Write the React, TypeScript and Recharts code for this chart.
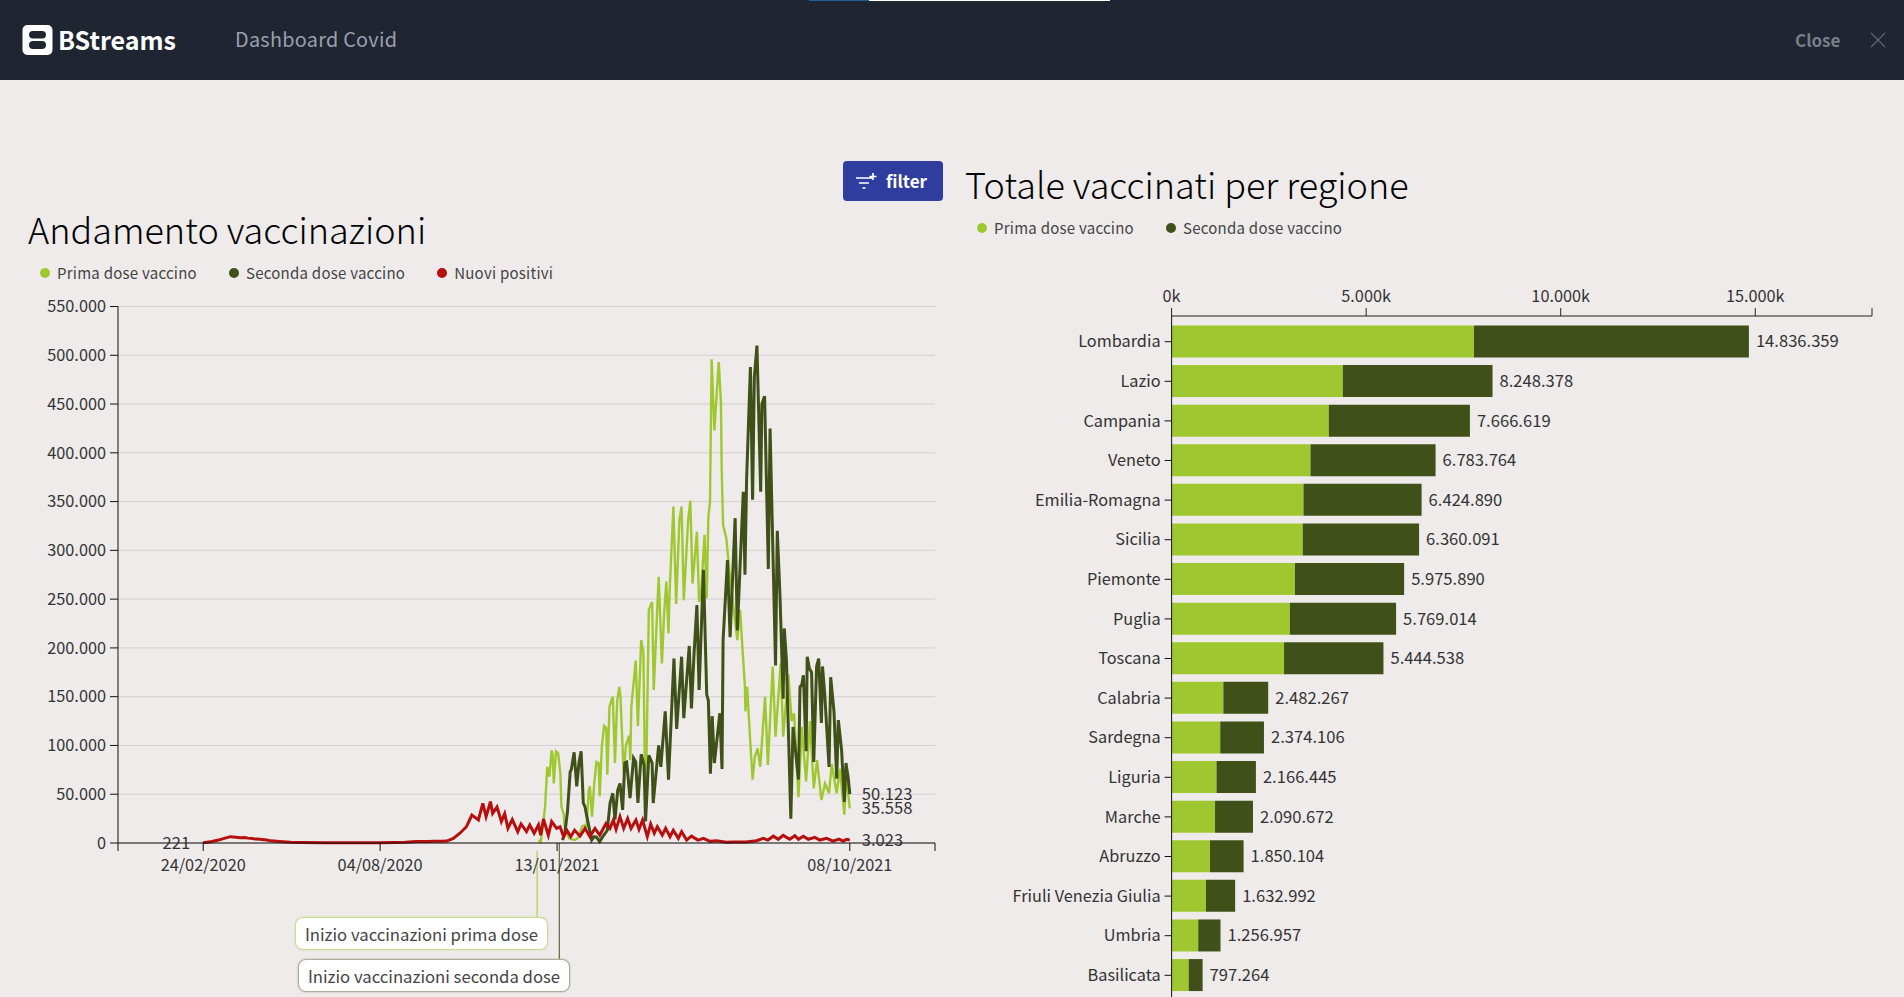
import { BarChart, Bar, LineChart, Line, XAxis, YAxis, CartesianGrid, Legend, LabelList, ReferenceLine } from 'recharts'

const FONT = '"Noto Sans CJK SC", "Noto Sans", sans-serif'
const GREEN = '#9fc830'
const DARK = '#3f5018'
const RED = '#b70e0e'
const TEXT = '#333333'

const seriesNames = ['Prima dose vaccino', 'Seconda dose vaccino', 'Nuovi positivi']

// days counted from 24/02/2020
const primaDays = [307, 309, 311, 313, 315, 317, 319, 320, 321, 323, 325, 327, 328, 330, 331, 333, 335, 337, 340, 343, 347, 349, 351, 353, 354, 356, 358, 360, 362, 363, 365, 367, 369, 370, 372, 375, 377, 379, 381, 382, 385, 387, 390, 391, 392, 396, 398, 401, 403, 405, 408, 411, 412.5, 415, 417, 420, 422, 424, 426, 427, 430.5, 433, 436, 438, 440, 444, 446, 448, 452, 454, 456, 459, 461, 462.5, 464, 465.5, 468, 472, 474, 474.7, 476, 479, 481, 482, 489, 491.5, 496, 496.4, 498, 500.6, 503, 505, 507.6, 510, 514.4, 517, 521.4, 524, 528.7, 531, 535.7, 538.8, 541, 545, 548, 552, 555.5, 559, 562, 566, 569.3, 573, 575.4, 580, 583, 587, 588.5, 592]
const primaValues = [3000, 1000, 17000, 37000, 78000, 68000, 95000, 90000, 61000, 94000, 92000, 71000, 37000, 30000, 17000, 10000, 5000, 4000, 3000, 5000, 17000, 18000, 17000, 54000, 58000, 27000, 61000, 83000, 82000, 48000, 99000, 120000, 118000, 70000, 140000, 150000, 82000, 146000, 160000, 150000, 71000, 100000, 110000, 85000, 140000, 187000, 120000, 208000, 196000, 25000, 239000, 247000, 157000, 222000, 273000, 184000, 235000, 268000, 215000, 257000, 345000, 245000, 331000, 345000, 249000, 331000, 351000, 266000, 319000, 247000, 259000, 316000, 251000, 334000, 350000, 496000, 423000, 493000, 452000, 384000, 326000, 312000, 288000, 276000, 208000, 239000, 160000, 135000, 160000, 109000, 65000, 88000, 97000, 78000, 150000, 80000, 181000, 109000, 184000, 109000, 173000, 125000, 133000, 47000, 119000, 63000, 125000, 56000, 85000, 44000, 61000, 51000, 81000, 51000, 76000, 29000, 71000, 35558]

const secondaDays = [329, 331.3, 333.5, 336, 337, 339.6, 342, 344, 346, 348, 349.6, 351.8, 355.7, 357.9, 360, 363, 365.8, 370, 372.5, 375, 377, 379.5, 381.6, 384, 386, 387.7, 390.8, 394, 396, 398, 401, 403.6, 405, 408, 411, 412, 417, 419, 423, 426, 431, 433.5, 438, 440, 445, 447, 449.4, 452, 454, 458, 461, 462.5, 464.4, 466, 468, 473, 475, 476, 480, 482.4, 487, 489, 494.5, 496, 497.5, 501, 503, 504.6, 507, 510.4, 511.5, 514, 517.4, 519, 524, 525.6, 528, 531, 532, 534, 538, 540, 545, 546.4, 548, 549.5, 552, 553, 555, 557, 559, 561.6, 563.5, 566, 567, 569, 573, 574.5, 577.5, 580, 581.5, 584.5, 587, 588.5, 590.6, 592]
const secondaValues = [3000, 12000, 32000, 73000, 75000, 93000, 58000, 82000, 94000, 41000, 37000, 24000, 3000, 6500, 6000, 1500, 6500, 13000, 41000, 51000, 24000, 54000, 61000, 34000, 82000, 83000, 46000, 87000, 83000, 41000, 91000, 80000, 22000, 90000, 82000, 41000, 100000, 78000, 135000, 65000, 189000, 117000, 191000, 128000, 202000, 138000, 194000, 244000, 157000, 280000, 152000, 146000, 71000, 130000, 82000, 133000, 76000, 208000, 290000, 211000, 333000, 218000, 360000, 275000, 372000, 488000, 352000, 478000, 510000, 360000, 450000, 458000, 281000, 425000, 182000, 320000, 256000, 148000, 220000, 187000, 25000, 119000, 65000, 160000, 162000, 172000, 94000, 191000, 179000, 175000, 83000, 181000, 189000, 123000, 181000, 153000, 78000, 170000, 135000, 66000, 126000, 95000, 42000, 82000, 66000, 50123]

const positiviDays = [0, 8, 14, 20, 25, 30, 34, 38, 41, 45, 48, 52, 58, 62, 70, 80, 90, 110, 130, 150, 162, 175, 185, 195, 205, 212, 218, 223, 229, 235, 241, 246, 252, 256, 259, 263, 265, 269, 273, 276, 279, 283, 288, 291, 296, 299, 303, 307, 309, 311.5, 316, 319, 323.6, 326.7, 330, 333, 336.5, 340, 345, 349.6, 354, 358.7, 363, 368.8, 372.4, 375.5, 378, 381.6, 385, 388.6, 391.7, 396.2, 399, 402.3, 406.6, 409.7, 413, 415.8, 420.3, 423.4, 427.4, 430.4, 435, 438, 442.6, 447, 453, 458, 464, 470, 479, 485, 497, 506.6, 512.8, 517, 522, 526.5, 531, 537, 541.7, 545, 549.4, 554, 560, 564.6, 570.7, 576.8, 582, 586, 589, 592]
const positiviValues = [221, 1500, 3000, 5000, 6500, 6000, 5500, 5600, 5000, 4700, 4000, 3800, 3000, 2200, 1500, 800, 500, 300, 200, 250, 250, 500, 800, 1500, 1600, 1800, 1800, 2000, 4800, 10000, 16700, 28700, 23600, 40700, 27000, 42400, 30400, 37000, 22000, 30000, 15000, 24000, 11600, 19500, 11600, 18500, 10000, 18500, 8000, 24600, 8000, 22000, 15000, 16700, 6500, 13000, 6500, 13000, 7000, 15000, 6500, 15000, 8000, 20000, 15000, 23500, 14000, 27000, 15000, 25000, 15000, 23500, 14000, 23500, 6500, 19500, 10000, 16700, 8000, 15000, 6500, 13000, 4800, 11600, 3000, 7000, 3000, 4800, 1700, 2400, 700, 1000, 1000, 2400, 4800, 3000, 7000, 3800, 7800, 3800, 7500, 3800, 7000, 3800, 5800, 3000, 4800, 2000, 4000, 2000, 3700, 3023]

const lineTicks = [-78, 0, 162, 324, 592, 670]
const lineTickLabels = ['', '24/02/2020', '04/08/2020', '13/01/2021', '08/10/2021', '']
const valueTicks = [0, 50000, 100000, 150000, 200000, 250000, 300000, 350000, 400000, 450000, 500000, 550000]

const regions = ['Lombardia', 'Lazio', 'Campania', 'Veneto', 'Emilia-Romagna', 'Sicilia', 'Piemonte', 'Puglia', 'Toscana', 'Calabria', 'Sardegna', 'Liguria', 'Marche', 'Abruzzo', 'Friuli Venezia Giulia', 'Umbria', 'Basilicata']
const regionPrima = [7770000, 4400000, 4040000, 3570000, 3390000, 3370000, 3170000, 3040000, 2890000, 1330000, 1250000, 1155000, 1116000, 987000, 884000, 684000, 440000]
const regionSeconda = [7066359, 3848378, 3626619, 3213764, 3034890, 2990091, 2805890, 2729014, 2554538, 1152267, 1124106, 1011445, 974672, 863104, 748992, 572957, 357264]
const regionTicks = [0, 5000000, 10000000, 15000000, 18000000]

const toRows = (days: number[], values: number[]) => days.map((day, i) => ({ day, value: values[i] }))
const regionRows = regions.map((name, i) => ({
  name,
  prima: regionPrima[i],
  seconda: regionSeconda[i],
  total: regionPrima[i] + regionSeconda[i],
}))

const dots = (v: number) => String(Math.round(v)).replace(/\B(?=(\d{3})+$)/g, '.')

const tickStyle = { fontSize: 16.3, fill: TEXT, fontFamily: FONT }

function LegendRow({ payload }: any) {
  const items = [...(payload || [])].sort((a: any, b: any) => seriesNames.indexOf(a.value) - seriesNames.indexOf(b.value))
  return (
    <div style={{ display: 'flex', gap: 32, fontFamily: FONT, fontSize: 15, color: '#444', lineHeight: '24px', letterSpacing: 0.25 }}>
      {items.map((p: any) => (
        <div key={p.value} style={{ display: 'flex', alignItems: 'center', gap: 7 }}>
          <span style={{ width: 10, height: 10, borderRadius: 5, background: p.color, display: 'block' }} />
          {p.value}
        </div>
      ))}
    </div>
  )
}

// value labels at the ends of a line
function endLabel(last: number, withFirst = false) {
  return (props: any) => {
    const { index, x, y, value } = props
    if (index === last) {
      return <text key={index} x={x + 12} y={y} dy={6} fontSize={16.6} fill={TEXT} fontFamily={FONT}>{dots(value)}</text>
    }
    if (withFirst && index === 0) {
      return <text key={index} x={x - 13} y={y} dy={6} textAnchor="end" fontSize={16.6} fill={TEXT} fontFamily={FONT}>{dots(value)}</text>
    }
    return <g key={index} />
  }
}

function Note({ text, left, top, width, height, border }: any) {
  return (
    <div style={{
      position: 'absolute', left, top, width, height, boxSizing: 'border-box',
      background: '#fff', border: `1px solid ${border}`, borderRadius: 8,
      boxShadow: `0 0 2px ${border}`, fontFamily: FONT, fontSize: 16.7, color: '#444',
      display: 'flex', alignItems: 'center', justifyContent: 'center', whiteSpace: 'nowrap',
    }}>
      {text}
    </div>
  )
}

function Header() {
  return (
    <div style={{ position: 'absolute', left: 0, top: 0, width: 1904, height: 80, background: '#202532', fontFamily: FONT }}>
      <div style={{ position: 'absolute', left: 809, top: 0, width: 60, height: 1, background: '#1b5f9e' }} />
      <div style={{ position: 'absolute', left: 869, top: 0, width: 241, height: 1, background: '#fff' }} />
      <svg width={32} height={32} style={{ position: 'absolute', left: 22, top: 24 }}>
        <rect x={0.5} y={1} width={30} height={30} rx={5} fill="#fff" />
        <rect x={7} y={7} width={17} height={7.5} rx={3.7} fill="#202532" />
        <rect x={7} y={17} width={17} height={8} rx={4} fill="#202532" />
      </svg>
      <div style={{ position: 'absolute', left: 58, top: 19, fontSize: 25, fontWeight: 700, color: '#fff', lineHeight: '40px' }}>BStreams</div>
      <div style={{ position: 'absolute', left: 235, top: 23, fontSize: 19.8, color: '#9aa0ae', lineHeight: '32px', letterSpacing: 0.3 }}>Dashboard Covid</div>
      <div style={{ position: 'absolute', left: 1795, top: 26, fontSize: 17, fontWeight: 700, color: '#7a7e87', lineHeight: '28px' }}>Close</div>
      <svg width={16} height={16} style={{ position: 'absolute', left: 1870, top: 32 }}>
        <path d="M1 1L15 15M15 1L1 15" stroke="#62666f" strokeWidth={1.2} />
      </svg>
    </div>
  )
}

function FilterButton() {
  return (
    <div style={{ position: 'absolute', left: 843, top: 161, width: 100, height: 40, background: '#2f3e9e', borderRadius: 4, fontFamily: FONT, color: '#fff' }}>
      <svg width={24} height={18} style={{ position: 'absolute', left: 12, top: 11 }}>
        <path d="M1 6H17M4 11H14M7.5 16H10.5M18 1V8M14.5 4.5H21.5" stroke="#fff" strokeWidth={1.7} />
      </svg>
      <div style={{ position: 'absolute', left: 43, top: 6, fontSize: 17, fontWeight: 700, lineHeight: '28px' }}>filter</div>
    </div>
  )
}

function Title({ text, left, top }: any) {
  return (
    <div style={{ position: 'absolute', left, top, fontFamily: FONT, fontSize: 36, color: '#000', lineHeight: '50px', whiteSpace: 'nowrap', fontWeight: 300 }}>{text}</div>
  )
}

export default function App() {
  return (
    <div style={{ position: 'fixed', left: 0, top: 0, width: 1904, height: 997, overflow: 'hidden', background: '#eeebea' }}>
      <Header />
      <FilterButton />
      <Title text="Andamento vaccinazioni" left={28} top={203} />
      <Title text="Totale vaccinati per regione" left={965} top={158} />

      <div style={{ position: 'absolute', left: 0, top: 255 }}>
        <LineChart width={960} height={742} margin={{ top: 51.5, right: 25, bottom: 114, left: 0 }}>
          <CartesianGrid horizontal vertical={false} stroke="#d4d1d0" />
          <XAxis
            dataKey="day"
            type="number"
            domain={[-78, 670]}
            ticks={lineTicks}
            interval={0}
            height={40}
            tickSize={8}
            tickMargin={8}
            tick={tickStyle}
            stroke="#111"
            tickFormatter={(d: number) => lineTickLabels[lineTicks.indexOf(d)]}
          />
          <YAxis
            type="number"
            domain={[0, 550000]}
            ticks={valueTicks}
            interval={0}
            width={118}
            tickSize={8}
            tickMargin={4}
            tick={tickStyle}
            stroke="#111"
            tickFormatter={dots}
          />
          <Legend verticalAlign="middle" content={<LegendRow />} wrapperStyle={{ position: 'absolute', left: 40, top: 6, width: 700 }} />
          <ReferenceLine ifOverflow="visible" stroke={GREEN} strokeWidth={1} segment={[{ x: 305.7, y: -8000 }, { x: 305.7, y: -76000 }]} />
          <ReferenceLine ifOverflow="visible" stroke={DARK} strokeWidth={1} segment={[{ x: 326, y: 0 }, { x: 326, y: -120000 }]} />
          <Line data={toRows(primaDays, primaValues)} dataKey="value" name={seriesNames[0]} stroke={GREEN} strokeWidth={2.4} dot={false} isAnimationActive={false} label={endLabel(primaDays.length - 1)} />
          <Line data={toRows(secondaDays, secondaValues)} dataKey="value" name={seriesNames[1]} stroke={DARK} strokeWidth={3} dot={false} isAnimationActive={false} label={endLabel(secondaDays.length - 1)} />
          <Line data={toRows(positiviDays, positiviValues)} dataKey="value" name={seriesNames[2]} stroke={RED} strokeWidth={3} dot={false} isAnimationActive={false} label={endLabel(positiviDays.length - 1, true)} />
        </LineChart>
      </div>

      <div style={{ position: 'absolute', left: 980, top: 210 }}>
        <BarChart width={924} height={787} layout="vertical" data={regionRows} barCategoryGap="9%" margin={{ top: 76, right: 32, bottom: 0, left: 0 }}>
          <XAxis
            xAxisId={0}
            orientation="top"
            type="number"
            domain={[0, 18000000]}
            ticks={regionTicks}
            interval={0}
            height={30}
            tickSize={8}
            tickMargin={6}
            tick={tickStyle}
            stroke="#222"
            tickFormatter={(v: number) => (v === 18000000 ? '' : `${dots(v / 1000)}k`)}
          />
          <YAxis
            type="category"
            dataKey="name"
            interval={0}
            width={191.6}
            tickSize={7}
            tickMargin={4}
            tick={tickStyle}
            stroke="#111"
            padding={{ top: 5.9, bottom: 1.9 }}
          />
          <Legend verticalAlign="middle" content={<LegendRow />} wrapperStyle={{ position: 'absolute', left: -3, top: 6, width: 500 }} />
          <Bar dataKey="prima" name={seriesNames[0]} stackId="a" fill={GREEN} isAnimationActive={false} />
          <Bar dataKey="seconda" name={seriesNames[1]} stackId="a" fill={DARK} isAnimationActive={false}>
            <LabelList dataKey="total" position="right" offset={7} formatter={dots} style={{ fontSize: 16.6, fill: TEXT, fontFamily: FONT }} />
          </Bar>
        </BarChart>
      </div>

      <Note text="Inizio vaccinazioni prima dose" left={295} top={917} width={253} height={33} border="#c9dc92" />
      <Note text="Inizio vaccinazioni seconda dose" left={298} top={959} width={272} height={33} border="#a9ae9a" />
    </div>
  )
}
